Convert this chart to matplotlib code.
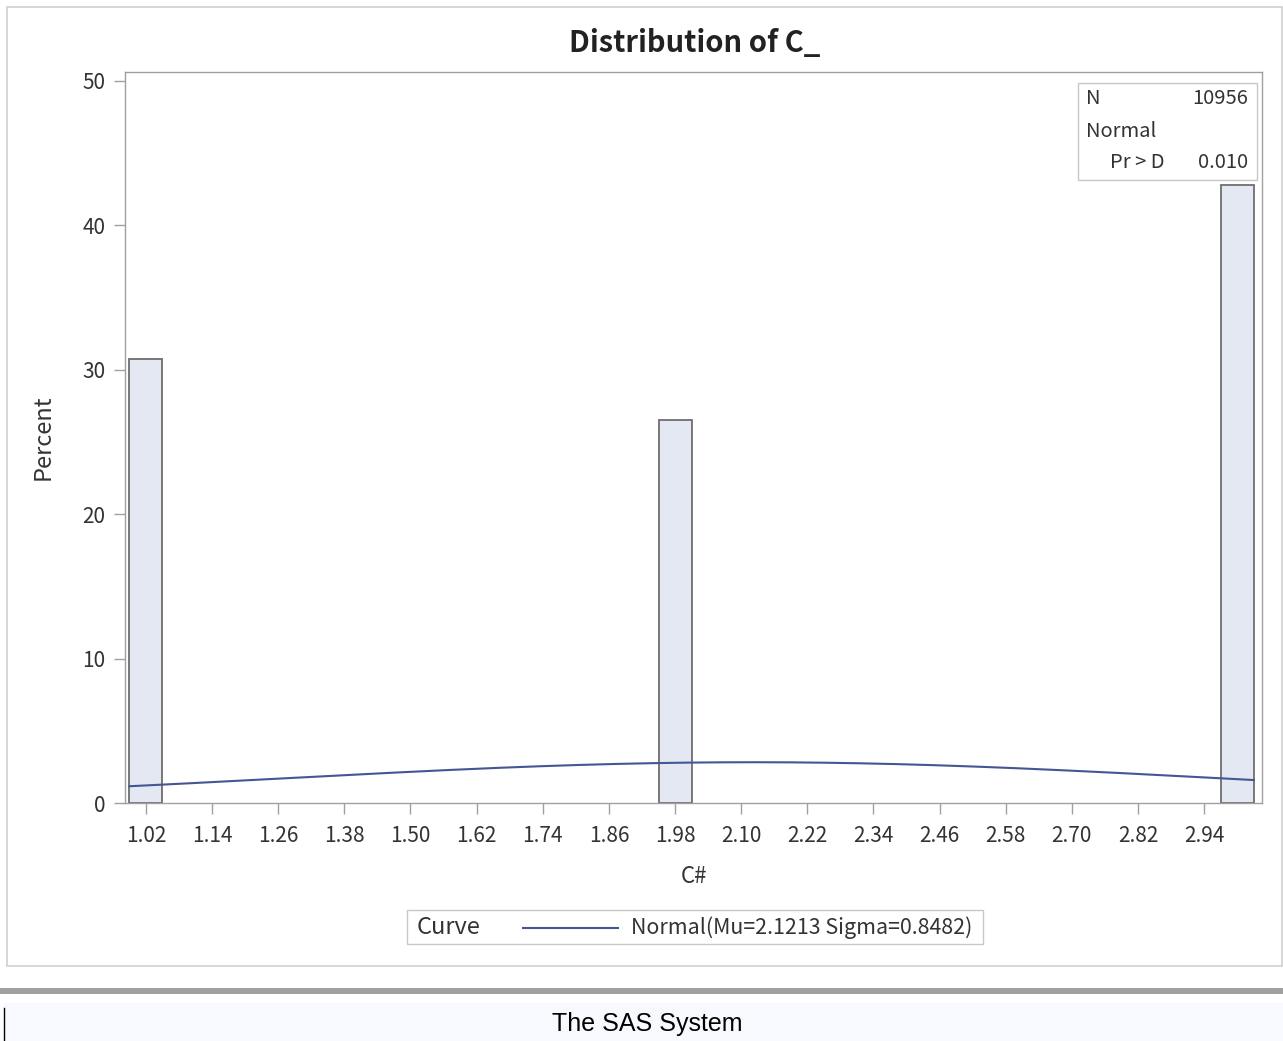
import numpy as np
import matplotlib.pyplot as plt
from matplotlib.patches import Rectangle
from matplotlib.lines import Line2D

# bin midpoints and percentages
bin_mid = [1.02, 1.98, 3.00]
pct = [30.7, 26.5, 42.8]
bin_width = 0.06

xtick_vals = [1.02, 1.14, 1.26, 1.38, 1.50, 1.62, 1.74, 1.86, 1.98,
              2.10, 2.22, 2.34, 2.46, 2.58, 2.70, 2.82, 2.94]
xtick_labels = ["1.02", "1.14", "1.26", "1.38", "1.50", "1.62", "1.74", "1.86", "1.98",
                "2.10", "2.22", "2.34", "2.46", "2.58", "2.70", "2.82", "2.94"]
ytick_vals = [0, 10, 20, 30, 40, 50]

# fitted normal
MU = 2.1213
SIGMA = 0.8482
N = 10956
PVAL = "0.010"

plt.rcParams['font.family'] = ["Noto Sans CJK JP", "DejaVu Sans"]

W, H = 1283, 1041
fig = plt.figure(figsize=(W / 100, H / 100), dpi=100)
fig.patch.set_facecolor("white")


def fx(px):
    return px / W


def fy(py):
    return 1 - py / H


# outer graph frame
fig.patches.append(Rectangle((fx(7), fy(966)), fx(1275), 959 / H, transform=fig.transFigure,
                             fill=False, edgecolor="#d0d0d0", lw=1.2))
# separator band and footer panel
fig.patches.append(Rectangle((0, fy(994)), 1, 6 / H, transform=fig.transFigure,
                             facecolor="#a0a0a0", edgecolor="none"))
fig.patches.append(Rectangle((fx(4), 0), 1, fy(1003), transform=fig.transFigure,
                             facecolor="#f8f9fe", edgecolor="none"))
fig.lines.append(Line2D([fx(4), fx(4)], [0, fy(1008)], transform=fig.transFigure,
                        color="black", lw=1))
fig.text(fx(647), fy(1024), "The SAS System", ha="center", va="center",
         fontsize=18, family=["Liberation Sans", "DejaVu Sans"])

ax = fig.add_axes([fx(125), fy(803), fx(1262 - 125), (803 - 72) / H])

ax.bar(bin_mid, pct, width=bin_width, facecolor="#e3e8f2", edgecolor="#6e6e6e",
       linewidth=1.3, zorder=2)

xs = np.linspace(bin_mid[0] - bin_width / 2, bin_mid[-1] + bin_width / 2, 300)
curve = 100 * bin_width * np.exp(-0.5 * ((xs - MU) / SIGMA) ** 2) / (SIGMA * np.sqrt(2 * np.pi))
ax.plot(xs, curve, color="#445694", lw=1.5, zorder=3)

ax.set_xlim(0.982, 3.045)
ax.set_ylim(0, 50.6)
ax.set_xticks(xtick_vals)
ax.set_xticklabels(xtick_labels)
ax.set_yticks(ytick_vals)
ax.tick_params(axis="both", direction="out", length=8, width=1, color="#a0a0a0",
               labelsize=15, labelcolor="#333333")
ax.tick_params(axis="x", pad=8)
ax.tick_params(axis="y", pad=6)
for s in ax.spines.values():
    s.set_color("#a0a0a0")
    s.set_linewidth(1)

ax.set_xlabel("C#", fontsize=16, color="#333333", labelpad=13)
ax.set_ylabel("Percent", fontsize=17, color="#333333", labelpad=20)

fig.text(fx(695), fy(43), "Distribution of C_", ha="center", va="center",
         fontsize=21, fontweight="bold", color="#222222")

# statistics inset
fig.patches.append(Rectangle((fx(1078), fy(180)), fx(1257 - 1078), (180 - 83) / H,
                             transform=fig.transFigure, facecolor="white",
                             edgecolor="#c8c8c8", lw=1, zorder=5))
ins = dict(fontsize=14.5, color="#333333", va="center", zorder=6)
fig.text(fx(1086), fy(99), "N", ha="left", **ins)
fig.text(fx(1248), fy(99), str(N), ha="right", **ins)
fig.text(fx(1086), fy(131), "Normal", ha="left", **ins)
fig.text(fx(1110), fy(163), "Pr > D", ha="left", **ins)
fig.text(fx(1248), fy(163), PVAL, ha="right", **ins)

# legend box
fig.patches.append(Rectangle((fx(407), fy(944)), fx(983 - 407), (944 - 910) / H,
                             transform=fig.transFigure, facecolor="white",
                             edgecolor="#c8c8c8", lw=1))
fig.text(fx(417), fy(928), "Curve", ha="left", va="center", fontsize=17, color="#333333")
fig.lines.append(Line2D([fx(523), fx(618)], [fy(928), fy(928)], transform=fig.transFigure,
                        color="#445694", lw=1.5))
fig.text(fx(631), fy(928), f"Normal(Mu={MU:.4f} Sigma={SIGMA:.4f})", ha="left",
         va="center", fontsize=15.4, color="#333333")

fig.savefig("out.png", dpi=100)
